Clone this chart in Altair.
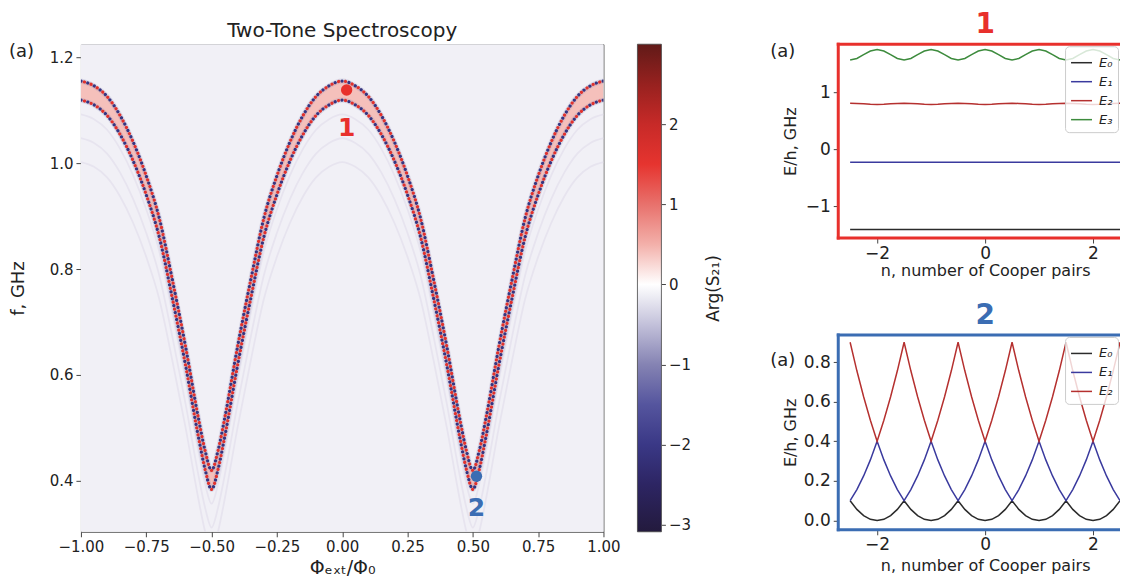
import altair as alt
import pandas as pd

# ---------------- Two-tone spectroscopy (left panel) ----------------
phi = [-1.00, -0.95, -0.90, -0.85, -0.80, -0.75, -0.70, -0.65, -0.60, -0.55, -0.525, -0.50,
       -0.475, -0.45, -0.40, -0.35, -0.30, -0.25, -0.20, -0.15, -0.10, -0.05, 0.00,
       0.05, 0.10, 0.15, 0.20, 0.25, 0.30, 0.35, 0.40, 0.45, 0.475, 0.50,
       0.525, 0.55, 0.60, 0.65, 0.70, 0.75, 0.80, 0.85, 0.90, 0.95, 1.00]
f_center = [1.137, 1.128, 1.108, 1.072, 1.022, 0.958, 0.878, 0.762, 0.637, 0.500, 0.440, 0.402,
            0.440, 0.500, 0.637, 0.762, 0.878, 0.958, 1.022, 1.072, 1.108, 1.128, 1.137,
            1.128, 1.108, 1.072, 1.022, 0.958, 0.878, 0.762, 0.637, 0.500, 0.440, 0.402,
            0.440, 0.500, 0.637, 0.762, 0.878, 0.958, 1.022, 1.072, 1.108, 1.128, 1.137]
band_halfwidth = 0.018
ghost_shifts = [0.045, 0.09, 0.135]

bg_arg = -0.12
band_arg = 0.40
glow_arg = -0.9
dot_blue_arg = -2.1
dot_red_arg = 1.6

heat_phi_range = [-1.0, 1.0]
heat_f_range = [0.304, 1.2245]

marker_phi = [0.017, 0.514]
marker_f = [1.138, 0.409]
marker_text = ["1", "2"]
marker_text_f = [1.066, 0.349]
marker_colors = ["#e8302c", "#3b6db3"]

cbar_stops = [-3.09, -2.5, -2.0, -1.5, -1.0, -0.5, 0.0, 0.5, 1.0, 1.5, 2.0, 2.5, 3.0]
cbar_colors = ["#231a3d", "#2d2563", "#3a3886", "#55559e", "#8583b3", "#c3c1da", "#ffffff",
               "#f3b0aa", "#e8716c", "#e6342f", "#c72a28", "#97211f", "#611a18"]
cbar_ticks = [-3, -2, -1, 0, 1, 2]
cbar_title = "Arg(S\u2082\u2081)"
left_title = "Two-Tone Spectroscopy"

x_ticks_left = [-1.0, -0.75, -0.5, -0.25, 0.0, 0.25, 0.5, 0.75, 1.0]
y_ticks_left = [0.4, 0.6, 0.8, 1.0, 1.2]

# ---------------- Energy levels (right panels) ----------------
n_flat = [-2.5, 2.5]
n_fine = [-2.5, -2.375, -2.25, -2.125, -2.0, -1.875, -1.75, -1.625, -1.5, -1.375, -1.25, -1.125,
          -1.0, -0.875, -0.75, -0.625, -0.5, -0.375, -0.25, -0.125, 0.0, 0.125, 0.25, 0.375,
          0.5, 0.625, 0.75, 0.875, 1.0, 1.125, 1.25, 1.375, 1.5, 1.625, 1.75, 1.875, 2.0,
          2.125, 2.25, 2.375, 2.5]

E0_top = [-1.41, -1.41]
E1_top = [-0.23, -0.23]
E2_top = [0.806, 0.803, 0.796, 0.789, 0.786, 0.789, 0.796, 0.803,
          0.806, 0.803, 0.796, 0.789, 0.786, 0.789, 0.796, 0.803,
          0.806, 0.803, 0.796, 0.789, 0.786, 0.789, 0.796, 0.803,
          0.806, 0.803, 0.796, 0.789, 0.786, 0.789, 0.796, 0.803,
          0.806, 0.803, 0.796, 0.789, 0.786, 0.789, 0.796, 0.803,
          0.806]
E3_top = [1.565, 1.592, 1.658, 1.723, 1.750, 1.723, 1.658, 1.592,
          1.565, 1.592, 1.658, 1.723, 1.750, 1.723, 1.658, 1.592,
          1.565, 1.592, 1.658, 1.723, 1.750, 1.723, 1.658, 1.592,
          1.565, 1.592, 1.658, 1.723, 1.750, 1.723, 1.658, 1.592,
          1.565, 1.592, 1.658, 1.723, 1.750, 1.723, 1.658, 1.592,
          1.565]

E0_bot = [0.100, 0.056, 0.025, 0.006, 0.000, 0.006, 0.025, 0.056,
          0.100, 0.056, 0.025, 0.006, 0.000, 0.006, 0.025, 0.056,
          0.100, 0.056, 0.025, 0.006, 0.000, 0.006, 0.025, 0.056,
          0.100, 0.056, 0.025, 0.006, 0.000, 0.006, 0.025, 0.056,
          0.100, 0.056, 0.025, 0.006, 0.000, 0.006, 0.025, 0.056,
          0.100]
E1_bot = [0.100, 0.156, 0.225, 0.306, 0.400, 0.306, 0.225, 0.156,
          0.100, 0.156, 0.225, 0.306, 0.400, 0.306, 0.225, 0.156,
          0.100, 0.156, 0.225, 0.306, 0.400, 0.306, 0.225, 0.156,
          0.100, 0.156, 0.225, 0.306, 0.400, 0.306, 0.225, 0.156,
          0.100, 0.156, 0.225, 0.306, 0.400, 0.306, 0.225, 0.156,
          0.100]
E2_bot = [0.900, 0.756, 0.625, 0.506, 0.400, 0.506, 0.625, 0.756,
          0.900, 0.756, 0.625, 0.506, 0.400, 0.506, 0.625, 0.756,
          0.900, 0.756, 0.625, 0.506, 0.400, 0.506, 0.625, 0.756,
          0.900, 0.756, 0.625, 0.506, 0.400, 0.506, 0.625, 0.756,
          0.900, 0.756, 0.625, 0.506, 0.400, 0.506, 0.625, 0.756,
          0.900]

level_labels = ["E\u2080", "E\u2081", "E\u2082", "E\u2083"]
level_colors = ["#2b2b2b", "#3a3a9e", "#b5302f", "#3d8b3d"]

FONT = "DejaVu Sans"
TXT = "#222222"
ONE = pd.DataFrame({"t": [""]})


def label_layer(text, x, y, **style):
    return alt.Chart(pd.DataFrame({"t": [text]})).mark_text(color=TXT, **style).encode(
        x=alt.value(x), y=alt.value(y), text="t:N")


def phase_scale():
    return alt.Scale(domain=cbar_stops, range=cbar_colors, interpolate="rgb")


# ---------------- left chart (heatmap) ----------------
xl = alt.X("phi:Q", scale=alt.Scale(domain=heat_phi_range, nice=False, zero=False),
           axis=alt.Axis(values=x_ticks_left, format=".2f", title="\u03a6\u2091\u2093\u209c/\u03a6\u2080",
                         titleFontSize=19, titleFontWeight="normal", labelFontSize=15, tickSize=5,
                         labelPadding=3, labelFlush=False, titleY=36, titleBaseline="middle",
                         grid=False, domain=False, labelColor=TXT, titleColor=TXT, tickColor="#444444"))
yl = alt.Y("f:Q", scale=alt.Scale(domain=heat_f_range, nice=False, zero=False),
           axis=alt.Axis(values=y_ticks_left, format=".1f", title="f, GHz", titleFontSize=18,
                         titleFontWeight="normal", labelFontSize=15, tickSize=5, labelPadding=3,
                         labelFlush=False, titleX=-62, titleY=244, titleAlign="center",
                         titleBaseline="middle", grid=False, domain=False, labelColor=TXT,
                         titleColor=TXT, tickColor="#444444"))
fill_enc = alt.Fill("arg:Q", scale=phase_scale(), legend=None)
stroke_enc = alt.Stroke("arg:Q", scale=phase_scale(), legend=None)

bg_df = pd.DataFrame({"phi": [heat_phi_range[0]], "phi2": [heat_phi_range[1]],
                      "f": [heat_f_range[0]], "f2": [heat_f_range[1]], "arg": [bg_arg]})
band_df = pd.DataFrame({"phi": phi,
                        "f": [c - band_halfwidth for c in f_center],
                        "f2": [c + band_halfwidth for c in f_center],
                        "arg": band_arg})
edges_df = pd.concat([
    pd.DataFrame({"phi": phi, "f": [c + band_halfwidth for c in f_center], "edge": "upper"}),
    pd.DataFrame({"phi": phi, "f": [c - band_halfwidth for c in f_center], "edge": "lower"}),
], ignore_index=True)
ghost_df = pd.concat([
    pd.DataFrame({"phi": phi, "f": [c - s for c in f_center], "k": i})
    for i, s in enumerate(ghost_shifts)
], ignore_index=True)

bg = alt.Chart(bg_df).mark_rect().encode(x=xl, x2=alt.X2("phi2"), y=yl, y2=alt.Y2("f2"), fill=fill_enc)
ghost = alt.Chart(ghost_df).mark_line(clip=True, interpolate="monotone", strokeWidth=1.8,
                                      color="#e7e4ef").encode(x=xl, y=yl, detail="k:N")
band = alt.Chart(band_df).mark_area(clip=True, interpolate="monotone").encode(
    x=xl, y=yl, y2=alt.Y2("f2"), fill=fill_enc)
glow = alt.Chart(edges_df.assign(arg=glow_arg)).mark_line(
    clip=True, interpolate="monotone", strokeWidth=5, opacity=0.25).encode(
    x=xl, y=yl, detail="edge:N", stroke=stroke_enc)
dots_blue = alt.Chart(edges_df.assign(arg=dot_blue_arg)).mark_line(
    clip=True, interpolate="monotone", strokeWidth=3.2, strokeCap="round", strokeDash=[0.1, 7]).encode(
    x=xl, y=yl, detail="edge:N", stroke=stroke_enc)
dots_red = alt.Chart(edges_df.assign(arg=dot_red_arg)).mark_line(
    clip=True, interpolate="monotone", strokeWidth=3.2, strokeCap="round", strokeDash=[0.1, 7],
    strokeDashOffset=3.5).encode(x=xl, y=yl, detail="edge:N", stroke=stroke_enc)

marker_layers = []
for i in range(len(marker_phi)):
    mdf = pd.DataFrame({"phi": [marker_phi[i]], "f": [marker_f[i]]})
    tdf = pd.DataFrame({"phi": [marker_phi[i]], "f": [marker_text_f[i]], "t": [marker_text[i]]})
    marker_layers.append(alt.Chart(mdf).mark_circle(size=130, opacity=1, color=marker_colors[i])
                         .encode(x=xl, y=yl))
    marker_layers.append(alt.Chart(tdf).mark_text(fontSize=25, fontWeight="bold", color=marker_colors[i],
                                                  baseline="middle", align="center")
                         .encode(x=xl, y=yl, text="t:N"))

a_left = label_layer("(a)", -72, 8, align="left", baseline="middle", fontSize=18)
title_left = label_layer(left_title, 261.5, -7, align="center", baseline="alphabetic", fontSize=20)

left = alt.layer(bg, ghost, band, glow, dots_blue, dots_red, *marker_layers,
                 a_left, title_left).properties(
    width=523, height=488,
    view=alt.ViewBackground(stroke="#555555", strokeWidth=1),
)

# ---------------- colorbar ----------------
CBAR_W = 24
CBAR_CELL_W = 167          # colorbar cell also provides the gap before the right panels
c_lo, c_hi = cbar_stops[0], cbar_stops[-1]
grad = alt.Gradient(
    gradient="linear", x1=0, y1=1, x2=0, y2=0,
    stops=[alt.GradientStop(offset=(v - c_lo) / (c_hi - c_lo), color=c)
           for v, c in zip(cbar_stops, cbar_colors)],
)
cbar_df = pd.DataFrame({"lo": [c_lo], "hi": [c_hi]})
colorbar = alt.Chart(cbar_df).mark_rect(fill=grad, stroke="#444444", strokeWidth=0.8).encode(
    x=alt.value(0), x2=alt.value(CBAR_W),
    y=alt.Y("lo:Q", scale=alt.Scale(domain=[c_lo, c_hi], nice=False, zero=False),
            axis=alt.Axis(orient="right", offset=CBAR_W - CBAR_CELL_W, values=cbar_ticks, format="d",
                          title=cbar_title, titleFontSize=17, titleFontWeight="normal", titleAngle=270,
                          titleX=52, titleY=244, titleAlign="center", titleBaseline="middle",
                          labelFontSize=15, labelPadding=3, tickSize=4, tickColor="#444444",
                          labelColor=TXT, titleColor=TXT, domain=False, grid=False,
                          labelFlush=False)),
    y2=alt.Y2("hi"),
).properties(width=CBAR_CELL_W, height=488, view=alt.ViewBackground(stroke=None))


# ---------------- right panels ----------------
def energy_panel(curves, ydom, yvals, yfmt, height, title_text, title_color, xtitle_y, a_y):
    width = 282
    frames = []
    for lab, ns, es in curves:
        frames.append(pd.DataFrame({"n": ns, "E": es, "level": lab}))
    df = pd.concat(frames, ignore_index=True)
    labs = [c[0] for c in curves]
    cols = [level_colors[level_labels.index(l)] for l in labs]
    xr = alt.X("n:Q", scale=alt.Scale(domain=[-2.72, 2.50], nice=False, zero=False),
               axis=alt.Axis(values=[-2, 0, 2], format="d", title="n, number of Cooper pairs",
                             titleFontSize=16, titleFontWeight="normal", labelFontSize=17,
                             tickSize=5, labelPadding=2, labelFlush=False, titleY=xtitle_y,
                             titleX=147, titleAlign="center",
                             titleBaseline="middle", grid=False, domain=False, labelColor=TXT,
                             titleColor=TXT, tickColor="#444444"))
    yr = alt.Y("E:Q", scale=alt.Scale(domain=ydom, nice=False, zero=False),
               axis=alt.Axis(values=yvals, format=yfmt, title="E/h, GHz", titleFontSize=16,
                             titleFontWeight="normal", labelFontSize=17, tickSize=5, labelPadding=3,
                             labelFlush=False, titleX=-48, titleY=height / 2, titleAlign="center",
                             titleBaseline="middle", grid=False, domain=False, labelColor=TXT,
                             titleColor=TXT, tickColor="#444444"))
    leg = alt.Legend(title=None, orient="top-right", offset=2, padding=5,
                     fillColor="rgba(255,255,255,0.8)", strokeColor="#cccccc", cornerRadius=4,
                     symbolType="stroke", symbolSize=441, symbolStrokeWidth=1.5,
                     labelFontSize=13, labelFontStyle="italic", labelColor=TXT, rowPadding=-2,
                     labelOffset=6)
    lines = alt.Chart(df).mark_line(strokeWidth=1.5, clip=True).encode(
        x=xr, y=yr,
        color=alt.Color("level:N", scale=alt.Scale(domain=labs, range=cols), legend=leg))
    frame_style = dict(color=title_color, strokeWidth=3)
    top_rule = alt.Chart(ONE).mark_rule(**frame_style).encode(
        x=alt.value(-1.5), x2=alt.value(width), y=alt.value(0))
    bot_rule = alt.Chart(ONE).mark_rule(**frame_style).encode(
        x=alt.value(-1.5), x2=alt.value(width), y=alt.value(height))
    left_rule = alt.Chart(ONE).mark_rule(**frame_style).encode(
        x=alt.value(0), y=alt.value(-1.5), y2=alt.value(height + 1.5))
    a_lab = label_layer("(a)", -68, a_y, align="left", baseline="middle", fontSize=18)
    ttl = alt.Chart(pd.DataFrame({"t": [title_text]})).mark_text(
        color=title_color, fontSize=28, fontWeight="bold", align="center", baseline="alphabetic").encode(
        x=alt.value(147), y=alt.value(-11), text="t:N")
    return alt.layer(lines, top_rule, bot_rule, left_rule, a_lab, ttl).properties(
        width=width, height=height,
        view=alt.ViewBackground(stroke=None),
    )


top_panel = energy_panel(
    [(level_labels[0], n_flat, E0_top), (level_labels[1], n_flat, E1_top),
     (level_labels[2], n_fine, E2_top), (level_labels[3], n_fine, E3_top)],
    ydom=[-1.56, 1.842], yvals=[-1, 0, 1], yfmt="d", height=194,
    title_text="1", title_color="#e8302c", xtitle_y=32, a_y=8)

bot_panel = energy_panel(
    [(level_labels[0], n_fine, E0_bot), (level_labels[1], n_fine, E1_bot),
     (level_labels[2], n_fine, E2_bot)],
    ydom=[-0.047, 0.937], yvals=[0.0, 0.2, 0.4, 0.6, 0.8], yfmt=".1f", height=195,
    title_text="2", title_color="#3b6db3", xtitle_y=36, a_y=26)

right = alt.vconcat(top_panel, bot_panel, spacing=97, bounds="flush").resolve_scale(
    color="independent").resolve_legend(color="independent")

chart = alt.hconcat(left, colorbar, right, spacing=34, bounds="flush").resolve_scale(
    y="independent", color="independent", fill="independent", stroke="independent").resolve_legend(
    color="independent", fill="independent", stroke="independent").properties(
    padding={"left": 0, "top": 3, "right": 0, "bottom": 0}
).configure(font=FONT).configure_view(strokeWidth=1)

chart.save("out.html", embed_options={"renderer": "svg", "actions": False})
